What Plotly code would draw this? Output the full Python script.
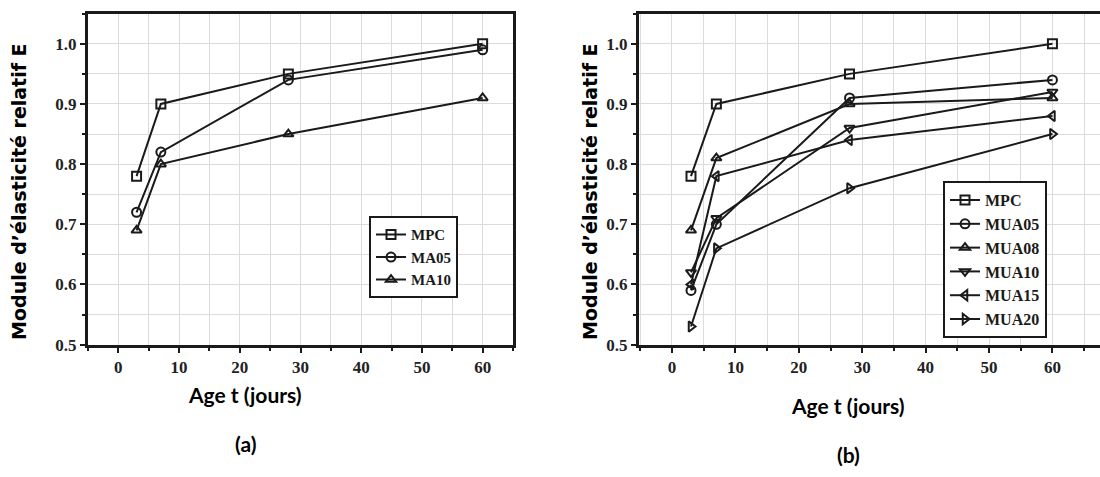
import plotly.graph_objects as go

# ---------------- data ----------------
age = [3, 7, 28, 60]

a_names = ["MPC", "MA05", "MA10"]
a_mpc = [0.78, 0.90, 0.95, 1.00]
a_ma05 = [0.72, 0.82, 0.94, 0.99]
a_ma10 = [0.69, 0.80, 0.85, 0.91]

b_names = ["MPC", "MUA05", "MUA08", "MUA10", "MUA15", "MUA20"]
b_mpc = [0.78, 0.90, 0.95, 1.00]
b_mua05 = [0.59, 0.70, 0.91, 0.94]
b_mua08 = [0.69, 0.81, 0.90, 0.91]
b_mua10 = [0.62, 0.71, 0.86, 0.92]
b_mua15 = [0.60, 0.78, 0.84, 0.88]
b_mua20 = [0.53, 0.66, 0.76, 0.85]

x_ticks = [0, 10, 20, 30, 40, 50, 60]
y_ticks = [0.5, 0.6, 0.7, 0.8, 0.9, 1.0]
y_tick_labels = ["0.5", "0.6", "0.7", "0.8", "0.9", "1.0"]

y_title = "Module d’élasticité relatif E"
x_title = "Age t (jours)"

# ---------------- style ----------------
INK = "#1a1a1a"
a_symbols = ["square-open", "circle-open", "triangle-up-open"]
b_symbols = ["square-open", "circle-open", "triangle-up-open",
             "triangle-down-open", "triangle-left-open", "triangle-right-open"]

fig = go.Figure()

for name, ys, sym in zip(a_names, [a_mpc, a_ma05, a_ma10], a_symbols):
    fig.add_trace(go.Scatter(
        x=age, y=ys, name=name, mode="lines+markers",
        xaxis="x", yaxis="y", legend="legend",
        line=dict(color=INK, width=2),
        marker=dict(symbol=sym, size=9, color=INK, line=dict(width=2, color=INK)),
    ))

for name, ys, sym in zip(b_names, [b_mpc, b_mua05, b_mua08, b_mua10, b_mua15, b_mua20], b_symbols):
    fig.add_trace(go.Scatter(
        x=age, y=ys, name=name, mode="lines+markers",
        xaxis="x2", yaxis="y2", legend="legend2",
        line=dict(color=INK, width=2),
        marker=dict(symbol=sym, size=9, color=INK, line=dict(width=2, color=INK)),
    ))

tickfont = dict(family="Liberation Serif", size=17, color="#222", weight="bold")
grid = "#dcdcdc"


def xaxis(domain, rng, anchor):
    return dict(
        domain=domain, range=rng, anchor=anchor,
        tickvals=x_ticks, ticks="outside", ticklen=5, tickwidth=2, tickcolor=INK,
        tickfont=tickfont, showgrid=True, gridcolor=grid, gridwidth=1,
        minor=dict(dtick=5, tick0=0, showgrid=True, gridcolor=grid, ticks="outside",
                   ticklen=3, tickwidth=2, tickcolor=INK),
        showline=True, linecolor=INK, linewidth=3, mirror=True,
        zeroline=False, fixedrange=True,
    )


def yaxis(domain, anchor, mirror):
    return dict(
        domain=domain, range=[0.5, 1.05], anchor=anchor,
        tickvals=y_ticks, ticktext=y_tick_labels, ticks="outside", ticklen=5,
        tickwidth=2, tickcolor=INK, tickfont=tickfont,
        showgrid=True, gridcolor=grid, gridwidth=1,
        minor=dict(dtick=0.05, tick0=0.5, showgrid=True, gridcolor=grid, ticks="outside",
                   ticklen=3, tickwidth=2, tickcolor=INK),
        showline=True, linecolor=INK, linewidth=3, mirror=mirror,
        zeroline=False, fixedrange=True,
    )


ydom = [1 - 352 / 477, 1 - 14 / 477]
legfont_a = dict(family="Liberation Serif", size=15, color=INK, weight="bold")
legfont_b = dict(family="Liberation Serif", size=16, color=INK, weight="bold")

ann = []
for xc, yc in [(19, 196), (590, 196)]:
    ann.append(dict(text=y_title, x=xc / 1100, y=1 - yc / 477, xref="paper", yref="paper",
                    showarrow=False, textangle=-90, xanchor="center", yanchor="middle",
                    font=dict(family="DejaVu Sans", size=19, color="#000", weight="bold")))
for xc, yc, t in [(245, 403, x_title), (245, 453, "(a)"), (848, 414, x_title), (848, 464, "(b)")]:
    ann.append(dict(text=t, x=xc / 1100, y=1 - yc / 477, xref="paper", yref="paper",
                    showarrow=False, xanchor="center", yanchor="middle",
                    font=dict(family="Lato", size=21, color="#000", weight="bold")))

fig.update_layout(
    width=1100, height=477, margin=dict(l=0, r=0, t=0, b=0),
    paper_bgcolor="white", plot_bgcolor="white",
    xaxis=xaxis([88 / 1100, 513 / 1100], [-5, 65], "y"),
    yaxis=yaxis(ydom, "x", True),
    xaxis2=xaxis([639 / 1100, 1.0], [-5.2, 67.5], "y2"),
    yaxis2=yaxis(ydom, "x2", False),
    legend=dict(x=369 / 1100, y=1 - 221 / 477, xanchor="left", yanchor="top",
                bgcolor="white", bordercolor=INK, borderwidth=2, font=legfont_a,
                tracegroupgap=0, itemwidth=30),
    legend2=dict(x=943 / 1100, y=1 - 185 / 477, xanchor="left", yanchor="top",
                 bgcolor="white", bordercolor=INK, borderwidth=2, font=legfont_b,
                 tracegroupgap=0, itemwidth=30),
    annotations=ann,
    showlegend=True,
)

fig.write_html("out.html")
